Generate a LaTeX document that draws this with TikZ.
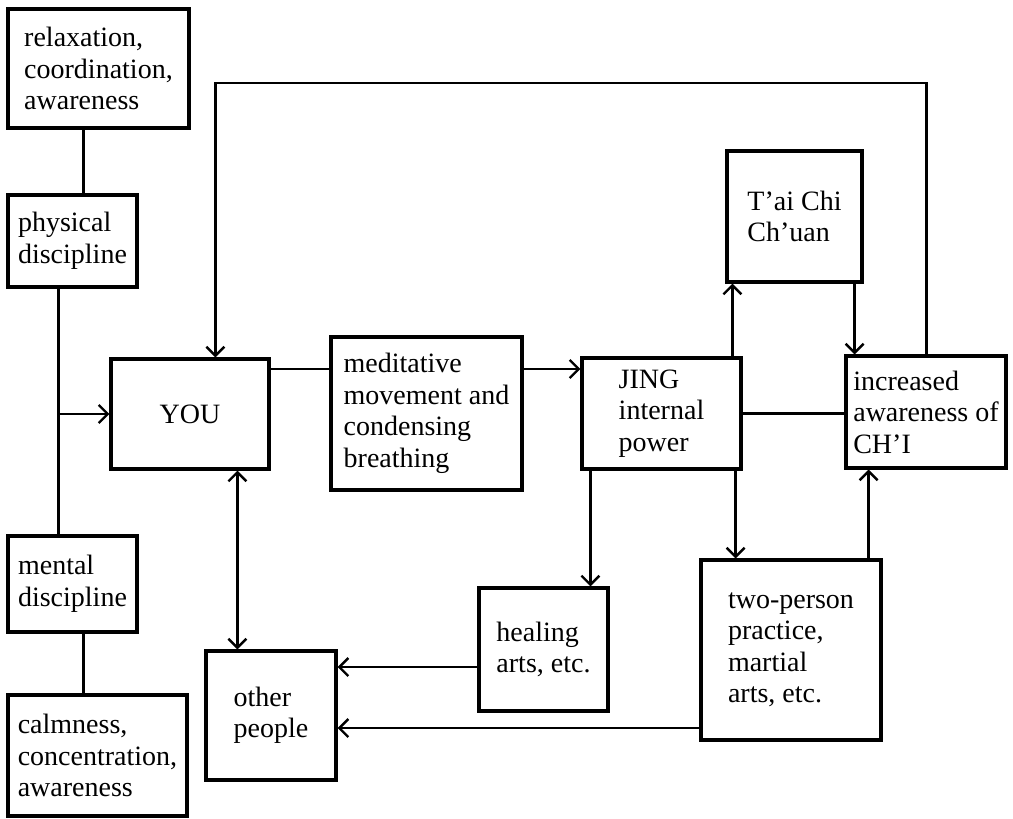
\documentclass[tikz,border=0pt]{standalone}
\usepackage{fontspec}
\setmainfont{Liberation Serif}
\usetikzlibrary{arrows.meta,calc}
\begin{document}
\begin{tikzpicture}[x=1pt,y=-1pt,
  box/.style={draw, line width=3.2pt, align=left, inner sep=0pt,
    font=\fontsize{28}{31.5}\selectfont},
  conn/.style={line width=2.4pt},
  arr/.style={conn, -{Straight Barb[length=9pt,width=18pt]}},
  arrtwo/.style={conn, {Straight Barb[length=9pt,width=18pt]}-{Straight Barb[length=9pt,width=18pt]}}]
\useasboundingbox (0,0) rectangle (1013,819);
% boxes
\node[box, minimum width=181pt, minimum height=119pt] (relax) at (98.5,68.5) {relaxation,\\coordination,\\awareness};
\node[box, minimum width=129pt, minimum height=92pt] (phys) at (72.5,241) {physical\\discipline};
\node[box, minimum width=158pt, minimum height=110pt] (you) at (190,414) {YOU};
\node[box, minimum width=191pt, minimum height=153pt] (med) at (426.5,413.5) {meditative\\movement and\\condensing\\breathing};
\node[box, minimum width=159pt, minimum height=111pt] (jing) at (661.5,413.5) {JING\\internal\\power};
\node[box, minimum width=135pt, minimum height=131pt] (tai) at (794.5,216.5) {T’ai Chi\\Ch’uan};
\node[box, minimum width=160pt, minimum height=112pt] (incr) at (926,412) {increased\\awareness of\\CH’I};
\node[box, minimum width=129pt, minimum height=123pt] (heal) at (543.5,649.5) {healing\\arts, etc.};
\node[box, minimum width=180pt, minimum height=180pt] (two) at (791,650) {two-person\\practice,\\martial\\arts, etc.};
\node[box, minimum width=130pt, minimum height=129pt] (other) at (271,715.5) {other\\people};
\node[box, minimum width=129pt, minimum height=96pt] (mental) at (72.5,584) {mental\\discipline};
\node[box, minimum width=179pt, minimum height=121pt] (calm) at (97.5,755.5) {calmness,\\concentration,\\awareness};
% helper coordinates
\coordinate (top) at (0,83);
\coordinate (jn) at (60,414);
\coordinate (row) at (0,369);
% left column
\draw[conn] ([xshift=77pt]relax.south west) -- ([xshift=77pt]relax.south west |- phys.north);
\draw[conn] ([xshift=52pt]phys.south west) -- ([xshift=52pt]phys.south west |- mental.north);
\draw[conn] ([xshift=77pt]mental.south west) -- ([xshift=77pt]mental.south west |- calm.north);
\draw[arr] (jn) -- (jn -| you.west);
% main row
\draw[conn] (you.east |- row) -- (med.west |- row);
\draw[arr] (med.east |- row) -- (jing.west |- row);
\draw[conn] (jing.east) -- (jing.east -| incr.west);
% top loop
\draw[arr] ([xshift=82pt]incr.north west) -- ([xshift=82pt]incr.north west |- top) -| ([xshift=106pt]you.north west);
% T'ai Chi
\draw[arr] ([xshift=7pt]tai.south west |- jing.north) -- ([xshift=7pt]tai.south west);
\draw[arr] ([xshift=-9pt]tai.south east) -- ([xshift=-9pt]tai.south east |- incr.north);
% down from JING
\draw[arr] ([xshift=10pt]jing.south west) -- ([xshift=10pt]jing.south west |- heal.north);
\draw[arr] ([xshift=-7pt]jing.south east) -- ([xshift=-7pt]jing.south east |- two.north);
\draw[arr] ([xshift=-14pt]two.north east) -- ([xshift=-14pt]two.north east |- incr.south);
% to other people
\draw[arr] ([yshift=-17.5pt]heal.west) -- ([yshift=-17.5pt]heal.west -| other.east);
\draw[arr] ([yshift=-78pt]two.west) -- ([yshift=-78pt]two.west -| other.east);
\draw[arrtwo] ([xshift=128pt]you.south west) -- ([xshift=128pt]you.south west |- other.north);
\end{tikzpicture}
\end{document}
